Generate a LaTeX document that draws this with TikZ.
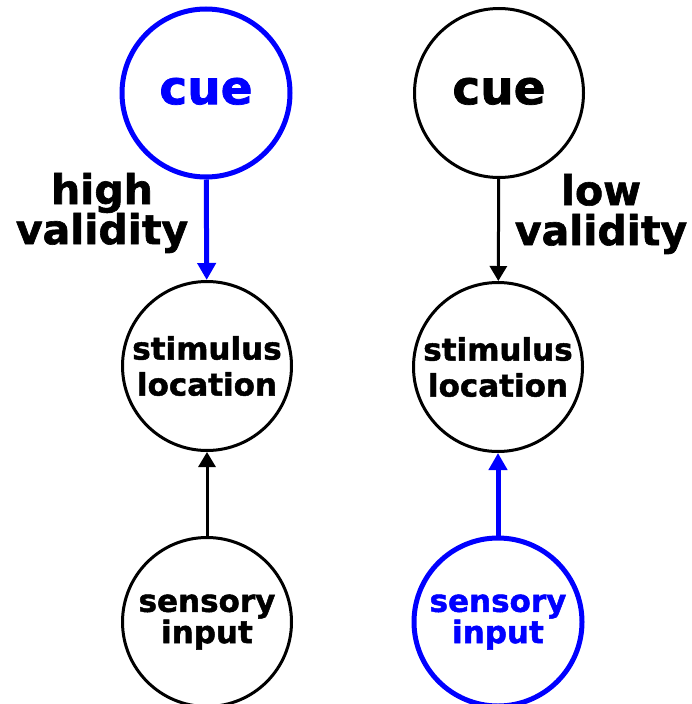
\documentclass[tikz,border=0pt]{standalone}
\usepackage{fontspec}
\setmainfont{DejaVu Sans}[BoldFeatures={FakeBold=1.5}]
\usetikzlibrary{arrows.meta}
\definecolor{cueblue}{RGB}{0, 0, 255}

\begin{document}
\begin{tikzpicture}[x=1pt, y=-1pt,
    state/.style={circle, draw=black, line width=3pt, minimum size=169pt, inner sep=0pt, align=center, font=\bfseries\fontsize{31}{36}\selectfont},
    active/.style={draw=cueblue, text=cueblue, line width=5pt, minimum size=168pt},
    lbl/.style={align=center, font=\bfseries\fontsize{41}{40}\selectfont},
    link/.style={line width=3pt, -{Triangle[length=15pt, width=17pt]}},
    strong/.style={draw=cueblue, line width=5pt, -{Triangle[length=17pt, width=18pt]}}]
        \useasboundingbox (0,0) rectangle (691,704);

        % Left: cue with high validity
        \node[state, active, font=\bfseries\fontsize{47}{50}\selectfont] (cueL) at (206,93) {\raisebox{4pt}{cue}};
        \node[state] (locL) at (207,366) {stimulus\\location};
        \node[state, font=\bfseries\fontsize{31}{26}\selectfont] (inL) at (207,622) {sensory\\input};
        \node[lbl] (valL) at (102,213) {high\\validity};
        \draw[strong] (cueL) -- (locL);
        \draw[link] (inL) -- (locL);

        % Right: cue with low validity
        \node[state, font=\bfseries\fontsize{47}{50}\selectfont] (cueR) at (499,93) {\raisebox{4pt}{cue}};
        \node[state] (locR) at (498,367) {stimulus\\location};
        \node[state, active, font=\bfseries\fontsize{31}{26}\selectfont] (inR) at (498,622) {sensory\\input};
        \node[lbl] (valR) at (601,214) {low\\validity};
        \draw[link] (cueR) -- (locR);
        \draw[strong] (inR) -- (locR);
      \end{tikzpicture}
\end{document}
